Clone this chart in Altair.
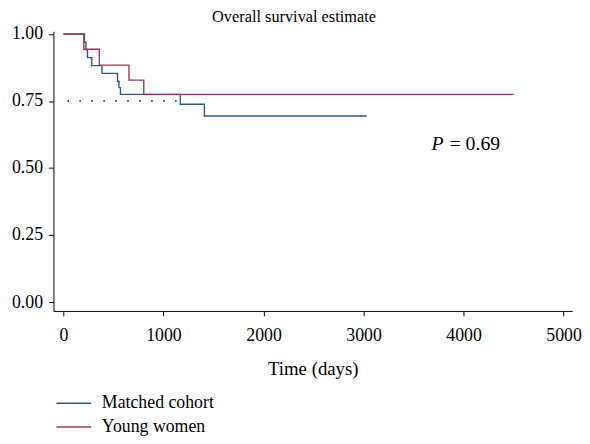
import altair as alt
import pandas as pd

# Kaplan-Meier step data (time in days, survival probability)
mc_time = [0, 210, 225, 240, 283, 385, 540, 555, 570, 1168, 1409, 3031]
mc_surv = [1.0, 0.969, 0.941, 0.912, 0.882, 0.853, 0.824, 0.80, 0.775, 0.738, 0.694, 0.694]

yw_time = [0, 204, 359, 655, 803, 4501]
yw_surv = [1.0, 0.943, 0.884, 0.828, 0.775, 0.775]

series = ["Matched cohort", "Young women"]
colors = ["#2d5b85", "#a03a4e"]

ref_time = [0, 1168]
ref_surv = [0.75, 0.75]

x_ticks = [0, 1000, 2000, 3000, 4000, 5000]
y_ticks = [0.0, 0.25, 0.50, 0.75, 1.0]

p_label_x = [3830]
p_label_y = [0.59]

FONT = "Liberation Serif"

km = pd.concat([
    pd.DataFrame({"t": mc_time, "s": mc_surv, "g": series[0]}),
    pd.DataFrame({"t": yw_time, "s": yw_surv, "g": series[1]}),
])
ref = pd.DataFrame({"t": ref_time, "s": ref_surv})
ann = pd.DataFrame({"t": p_label_x, "s": p_label_y})

xs = alt.Scale(domain=[-100, 5085], nice=False, zero=False)
ys = alt.Scale(domain=[-0.033, 1.01], nice=False, zero=False)

xax = alt.Axis(values=x_ticks, title="Time (days)", grid=False, format="d",
               labelFont=FONT, labelFontSize=18, titleFont=FONT, titleFontSize=19,
               titleFontWeight="normal", tickSize=5, labelPadding=11, titlePadding=15,
               domainColor="black", tickColor="black", labelColor="black", titleColor="black")
yax = alt.Axis(values=y_ticks, title=None, grid=False, format=".2f",
               labelFont=FONT, labelFontSize=18, tickSize=5, labelPadding=6,
               domainColor="black", tickColor="black", labelColor="black")

lines = alt.Chart(km).mark_line(interpolate="step-after", strokeWidth=1.4).encode(
    x=alt.X("t:Q", scale=xs, axis=xax),
    y=alt.Y("s:Q", scale=ys, axis=yax),
    color=alt.Color("g:N", scale=alt.Scale(domain=series, range=colors),
                    legend=alt.Legend(title=None, orient="none", legendX=11, legendY=367,
                                      symbolType="M-2,0H2", symbolSize=306, symbolStrokeWidth=1.4,
                                      labelFont=FONT, labelFontSize=18, labelColor="black",
                                      labelOffset=19, rowPadding=5, padding=0)),
    detail="g:N",
)

dots = alt.Chart(ref).mark_line(strokeWidth=1.4, strokeDash=[1.5, 10.6], strokeDashOffset=8).encode(
    x=alt.X("t:Q", scale=xs),
    y=alt.Y("s:Q", scale=ys),
    color=alt.value("black"),
)

p_italic = alt.Chart(ann).mark_text(text="P", font=FONT, fontSize=20, fontStyle="italic",
                                    align="right", baseline="middle", dx=-3, color="black").encode(
    x=alt.X("t:Q", scale=xs), y=alt.Y("s:Q", scale=ys))
p_value = alt.Chart(ann).mark_text(text="= 0.69", font=FONT, fontSize=20,
                                   align="left", baseline="middle", dx=3, color="black").encode(
    x=alt.X("t:Q", scale=xs), y=alt.Y("s:Q", scale=ys))

chart = alt.layer(dots, lines, p_italic, p_value).properties(
    width=525, height=283,
    title=alt.TitleParams("Overall survival estimate", font=FONT, fontSize=16.5,
                          fontWeight="normal", color="black", dx=-19, offset=0),
    padding={"left": 46, "top": 21, "right": 10, "bottom": 124},
    autosize=alt.AutoSizeParams(type="none"),
).configure_view(stroke=None)

chart.save("out.html", embed_options={"renderer": "svg", "actions": False})
